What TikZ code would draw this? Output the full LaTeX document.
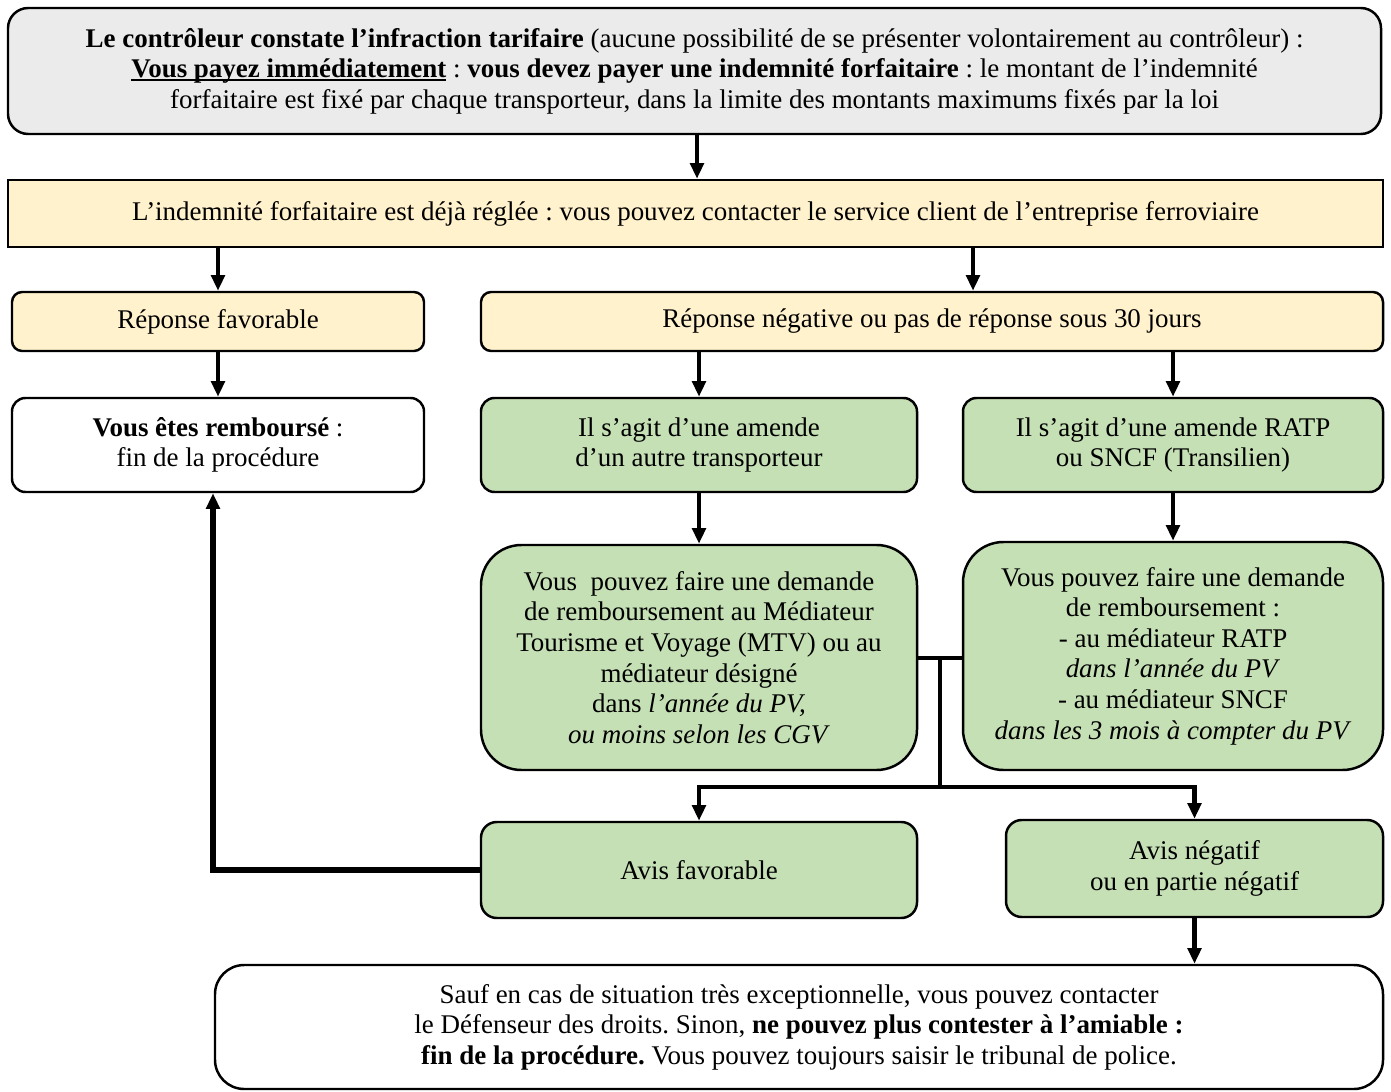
\documentclass[tikz,border=0pt]{standalone}
\usepackage{fontspec}
\setmainfont{Liberation Serif}
\frenchspacing
\usetikzlibrary{%
  arrows.meta,%
  positioning,% wg. " of "
  shapes.misc%
}
\definecolor{gris}{RGB}{235,235,235}
\definecolor{jaune}{RGB}{255,242,204}
\definecolor{vert}{RGB}{197,224,180}
\newsavebox{\boitesoul}
\newcommand{\souligne}[1]{\sbox{\boitesoul}{#1}\rlap{\rule[-1.5pt]{\wd\boitesoul}{0.7pt}}\usebox{\boitesoul}}
\tikzset{
  boite/.style={draw, line width=1.1pt, align=center, inner sep=2pt},
  taille/.style 2 args={minimum width=#1*0.445pt, minimum height=#2*0.445pt},
  fleche/.style={->, line width=2pt},
  trait/.style={line width=2pt},
}

\begin{document}
\begin{tikzpicture}[
  x=0.445pt, y=-0.445pt,
  font=\fontsize{12pt}{13.6pt}\selectfont,
  >={Triangle[length=7pt,width=6pt]},
]
\useasboundingbox (0,0) rectangle (1391,1092);

\node[boite, fill=gris, rounded corners=9pt, taille={1373}{126}] (constat) at (694.5,71)
  {\textbf{Le contrôleur constate l’infraction tarifaire} (aucune possibilité de se présenter volontairement au contrôleur) :\\
   \souligne{\textbf{Vous payez immédiatement}} : \textbf{vous devez payer une indemnité forfaitaire} : le montant de l’indemnité\\
   forfaitaire est fixé par chaque transporteur, dans la limite des montants maximums fixés par la loi};
\node[boite, fill=jaune, taille={1375}{67}] (regle) at (695.5,213.5)
  {L’indemnité forfaitaire est déjà réglée : vous pouvez contacter le service client de l’entreprise ferroviaire};

\node[boite, fill=jaune, rounded corners=4.5pt, taille={412}{59}] (favorable) at (218,321.5) {Réponse favorable};
\node[boite, fill=jaune, rounded corners=4.5pt, taille={902}{59}] (negative) at (932,321.5) {Réponse négative ou pas de réponse sous 30 jours};

\node[boite, fill=white, rounded corners=6pt, taille={412}{94}] (rembourse) at (218,445) {\textbf{Vous êtes remboursé} :\\fin de la procédure};
\node[boite, fill=vert, rounded corners=6pt, taille={436}{94}] (autre) at (699,445) {Il s’agit d’une amende\\d’un autre transporteur};
\node[boite, fill=vert, rounded corners=6pt, taille={420}{94}] (ratp) at (1173,445) {Il s’agit d’une amende RATP\\ou SNCF (Transilien)};

\node[boite, fill=vert, rounded corners=18pt, taille={436}{225}] (demandeautre) at (699,657.5)
  {Vous~ pouvez faire une demande\\de remboursement au Médiateur\\Tourisme et Voyage (MTV) ou au\\médiateur désigné\\dans \textit{l’année du PV,}\\\textit{ou moins selon les CGV}};
\node[boite, fill=vert, rounded corners=18pt, taille={420}{228}] (demanderatp) at (1173,656)
  {Vous pouvez faire une demande\\de remboursement :\\- au médiateur RATP\\\textit{dans l’année du PV}\\- au médiateur SNCF\\\textit{dans les 3 mois à compter du PV}};

\node[boite, fill=vert, rounded corners=7pt, taille={436}{96}] (avisfav) at (699,870) {Avis favorable};
\node[boite, fill=vert, rounded corners=7pt, taille={377}{97}] (avisneg) at (1194.5,868.5) {Avis négatif\\ou en partie négatif};

\node[boite, fill=white, rounded corners=13pt, taille={1168}{124}] (fin) at (799,1027)
  {Sauf en cas de situation très exceptionnelle, vous pouvez contacter\\
   le Défenseur des droits. Sinon, \textbf{ne pouvez plus contester à l’amiable :}\\
   \textbf{fin de la procédure.} Vous pouvez toujours saisir le tribunal de police.};

\coordinate (branche) at (940,658);
\coordinate (partage) at (940,787);

\draw[fleche] (constat.south -| 697,0) -- (regle.north -| 697,0);
\draw[fleche] (regle.south -| favorable.north) -- (favorable.north);
\draw[fleche] (regle.south -| 973,0) -- (negative.north -| 973,0);
\draw[fleche] (favorable) -- (rembourse);
\draw[fleche] (negative.south -| autre.north) -- (autre);
\draw[fleche] (negative.south -| ratp.north) -- (ratp);
\draw[fleche] (autre) -- (demandeautre);
\draw[fleche] (ratp) -- (demanderatp);

\draw[trait] (demandeautre.east |- branche) -- (demanderatp.west |- branche);
\draw[trait] (branche) -- (partage);
\draw[fleche] (partage) -| (avisfav.north);
\draw[fleche] (partage) -| (avisneg.north);

\draw[fleche, line width=2.4pt] (avisfav.west) -| (rembourse.south -| 213,0);
\draw[fleche] (avisneg.south) -- (avisneg.south |- fin.north);

\end{tikzpicture}
\end{document}
